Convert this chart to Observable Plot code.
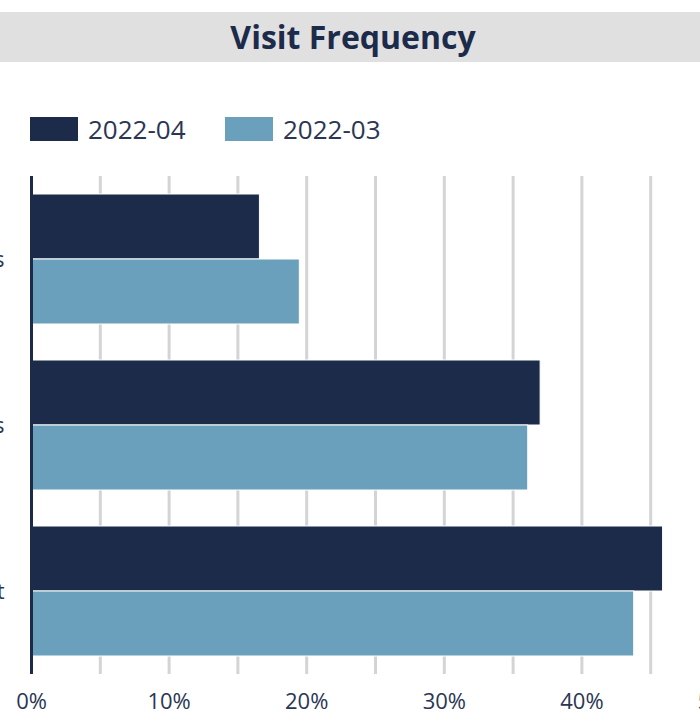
<!DOCTYPE html>
<html>
<head>
<meta charset="utf-8">
<script src="https://cdn.jsdelivr.net/npm/d3@7"></script>
<script src="https://cdn.jsdelivr.net/npm/@observablehq/plot@0.6"></script>
<style>
  html, body { margin: 0; padding: 0; background: #ffffff; }
  body { width: 700px; height: 719px; overflow: hidden; position: relative; font-family: "Open Sans", Lato, sans-serif; }
  #title { position: absolute; top: 12px; left: 0; width: 706px; height: 50px; background: #e0e0e0;
    text-align: center; line-height: 50px; font-size: 32px; font-weight: 700; color: #1d2b4b; }
  .sw { position: absolute; top: 117px; width: 48px; height: 24px; }
  .lt { position: absolute; top: 112px; font-size: 26px; line-height: 34px; color: #2a3654; }
  #chart { position: absolute; top: 150px; left: -169px; width: 908px; height: 569px; }
  #chart svg { max-width: none !important; width: 908px; height: 569px; }
</style>
</head>
<body>
<div id="title">Visit Frequency</div>
<div id="legend"></div>
<div id="chart"></div>
<script>
const categories = ["Multiple visits", "Repeat visits", "First visit"];
const seriesNames = ["2022-04", "2022-03"];
const seriesColors = ["#1d2b4b", "#6aa0bb"];
const values2022_04 = [16.6, 37.0, 45.9];
const values2022_03 = [19.5, 36.1, 43.8];
const xTickValues = [0, 10, 20, 30, 40, 50];
const gridValues = [0, 5, 10, 15, 20, 25, 30, 35, 40, 45, 50];

const rows = [];
categories.forEach((c, i) => {
  rows.push({category: c, series: seriesNames[0], value: values2022_04[i]});
  rows.push({category: c, series: seriesNames[1], value: values2022_03[i]});
});

// legend
const legend = document.getElementById("legend");
const legendLeft = [30, 225];
seriesNames.forEach((s, i) => {
  const sw = document.createElement("div");
  sw.className = "sw"; sw.style.left = legendLeft[i] + "px"; sw.style.background = seriesColors[i];
  const t = document.createElement("div");
  t.className = "lt"; t.style.left = (legendLeft[i] + 58) + "px"; t.textContent = s;
  legend.appendChild(sw); legend.appendChild(t);
});

const chart = Plot.plot({
  width: 908,
  height: 569,
  marginLeft: 200,
  marginRight: 20,
  marginTop: 25,
  marginBottom: 45,
  style: {fontFamily: "'Open Sans', Lato, sans-serif", fontSize: "22px", color: "#2a3654", background: "transparent", overflow: "visible", maxWidth: "none"},
  x: {domain: [0, 50], ticks: xTickValues, tickFormat: d => d + "%", tickSize: 0, tickPadding: 19, label: null},
  y: {domain: seriesNames, axis: null, paddingInner: 0, paddingOuter: 0.2576},
  fy: {domain: categories, padding: 0, tickSize: 0, tickPadding: 27, label: null},
  color: {domain: seriesNames, range: seriesColors},
  facet: {data: rows, y: "category"},
  marks: [
    Plot.ruleX(gridValues, {stroke: "#d4d4d4", strokeWidth: 3}),
    Plot.barX(rows, {x: "value", y: "series", fill: "series", stroke: "#ffffff", strokeWidth: 1}),
    Plot.ruleX([0], {stroke: "#1d2b4b", strokeWidth: 3})
  ]
});
document.getElementById("chart").appendChild(chart);
</script>
</body>
</html>
